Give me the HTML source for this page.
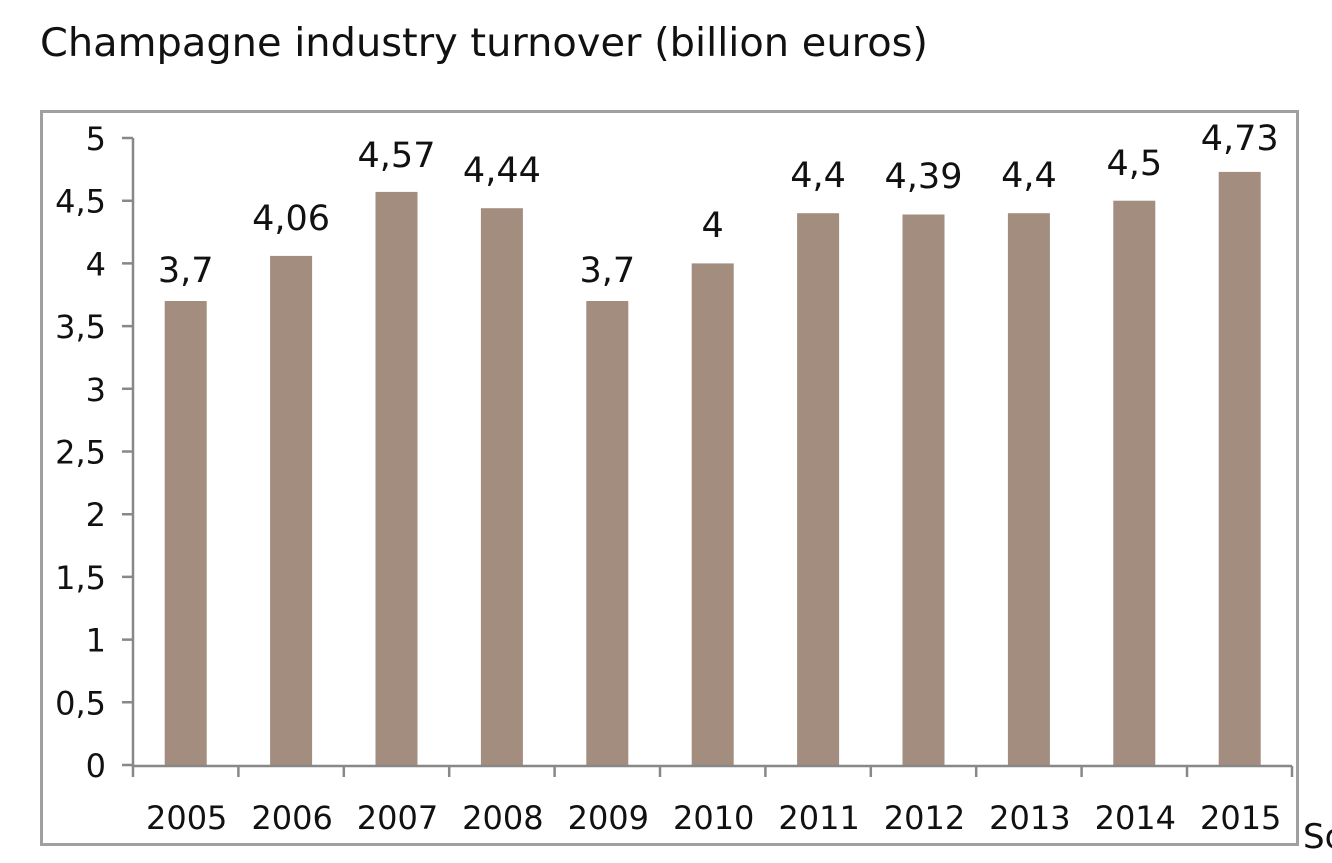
<!DOCTYPE html>
<html><head><style>
html,body{margin:0;padding:0;background:#fff;}
svg{display:block;font-family:"DejaVu Sans","Liberation Sans",sans-serif;}
</style></head><body>
<svg width="1332" height="863" xmlns="http://www.w3.org/2000/svg">
<text x="40" y="56" font-size="39" fill="#111" textLength="888" lengthAdjust="spacingAndGlyphs">Champagne industry turnover (billion euros)</text>
<rect x="41.5" y="111.5" width="1256" height="733" fill="none" stroke="#a0a0a0" stroke-width="3"/>
<g fill="#a38d7e">
<rect x="164.7" y="301" width="42" height="464"/>
<rect x="270.1" y="255.9" width="42" height="509.1"/>
<rect x="375.5" y="191.9" width="42" height="573.1"/>
<rect x="480.9" y="208.2" width="42" height="556.8"/>
<rect x="586.3" y="301" width="42" height="464"/>
<rect x="691.7" y="263.4" width="42" height="501.6"/>
<rect x="797.1" y="213.2" width="42" height="551.8"/>
<rect x="902.5" y="214.5" width="42" height="550.5"/>
<rect x="1007.9" y="213.2" width="42" height="551.8"/>
<rect x="1113.3" y="200.7" width="42" height="564.3"/>
<rect x="1218.7" y="171.9" width="42" height="593.1"/>
</g>
<g stroke="#888" stroke-width="2.5" fill="none">
<path d="M133 138V766H1292"/>
<path d="M122 138H133M122 200.7H133M122 263.4H133M122 326.1H133M122 388.8H133M122 451.5H133M122 514.2H133M122 576.9H133M122 639.6H133M122 702.3H133M122 765H133"/>
<path d="M133 766V777M238.4 766V777M343.8 766V777M449.2 766V777M554.6 766V777M660 766V777M765.4 766V777M870.8 766V777M976.2 766V777M1081.6 766V777M1187 766V777M1292 766V777"/>
</g>
<g font-size="32" fill="#111" text-anchor="end">
<text x="106" y="150">5</text>
<text x="106" y="212.7">4,5</text>
<text x="106" y="275.4">4</text>
<text x="106" y="338.1">3,5</text>
<text x="106" y="400.8">3</text>
<text x="106" y="463.5">2,5</text>
<text x="106" y="526.2">2</text>
<text x="106" y="588.9">1,5</text>
<text x="106" y="651.6">1</text>
<text x="106" y="714.3">0,5</text>
<text x="106" y="777">0</text>
</g>
<g font-size="32" fill="#111" text-anchor="middle">
<text x="186.7" y="829">2005</text>
<text x="292.1" y="829">2006</text>
<text x="397.5" y="829">2007</text>
<text x="502.9" y="829">2008</text>
<text x="608.3" y="829">2009</text>
<text x="713.7" y="829">2010</text>
<text x="819.1" y="829">2011</text>
<text x="924.5" y="829">2012</text>
<text x="1029.9" y="829">2013</text>
<text x="1135.3" y="829">2014</text>
<text x="1240.7" y="829">2015</text>
</g>
<g font-size="35" fill="#111" text-anchor="middle">
<text x="185.7" y="282">3,7</text>
<text x="291.1" y="230">4,06</text>
<text x="396.5" y="167">4,57</text>
<text x="501.9" y="182">4,44</text>
<text x="607.3" y="282">3,7</text>
<text x="712.7" y="237">4</text>
<text x="818.1" y="187">4,4</text>
<text x="923.5" y="188">4,39</text>
<text x="1028.9" y="187">4,4</text>
<text x="1134.3" y="175">4,5</text>
<text x="1239.7" y="150">4,73</text>
</g>
<text x="1303" y="848" font-size="34" fill="#111">So</text>
</svg>
</body></html>
